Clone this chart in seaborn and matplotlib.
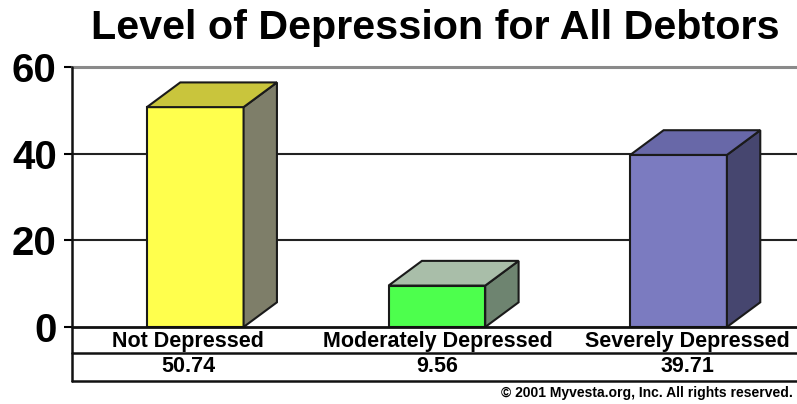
import matplotlib
matplotlib.use("Agg")
import matplotlib.pyplot as plt
import seaborn as sns
import pandas as pd
from matplotlib.patches import Polygon

# ---- data ----
categories = ["Not Depressed", "Moderately Depressed", "Severely Depressed"]
values = [50.74, 9.56, 39.71]
value_labels = ["50.74", "9.56", "39.71"]
yticks = [0, 20, 40, 60]
title = "Level of Depression for All Debtors"
credit = "© 2001 Myvesta.org, Inc. All rights reserved."

# ---- styles ----
front_colors = ["#FFFF4D", "#4DFF4D", "#7B7BC0"]
top_colors = ["#C9C53C", "#A9BEA9", "#6868A8"]
side_colors = ["#7E7E69", "#6E8470", "#46466F"]
edge = "#1a1a1a"

sns.set_theme(style="white")
plt.rcParams["font.family"] = ["Liberation Sans", "DejaVu Sans"]

W, H = 797, 404
fig = plt.figure(figsize=(W / 100, H / 100), dpi=100)
ax_left, ax_right, ax_top, ax_bottom = 72, 797, 67, 327
ax = fig.add_axes([ax_left / W, 1 - ax_bottom / H,
                   (ax_right - ax_left) / W, (ax_bottom - ax_top) / H])

df = pd.DataFrame({"category": categories, "value": values})
sns.barplot(data=df, x="category", y="value", hue="category",
            palette=front_colors, width=0.4, edgecolor=edge, linewidth=1.5,
            ax=ax, legend=False, zorder=3, saturation=1)

ax.set_ylim(0, 60)
ax.set_xlim(-0.51, 2.49)

# 3D top and side faces derived from the bars
dx, dy = 0.138, 5.7
patches = sorted(ax.patches, key=lambda p: p.get_x())
for i, p in enumerate(patches):
    x0 = p.get_x()
    x1 = x0 + p.get_width()
    h = p.get_height()
    top = Polygon([(x0, h), (x0 + dx, h + dy), (x1 + dx, h + dy), (x1, h)],
                  closed=True, facecolor=top_colors[i], edgecolor=edge,
                  linewidth=1.5, zorder=3, clip_on=False)
    side = Polygon([(x1, 0), (x1, h), (x1 + dx, h + dy), (x1 + dx, dy)],
                   closed=True, facecolor=side_colors[i], edgecolor=edge,
                   linewidth=1.5, zorder=3, clip_on=False)
    ax.add_patch(side)
    ax.add_patch(top)

# grid lines
for yv in yticks:
    if yv == 60:
        ax.axhline(yv, color="#8a8a8a", lw=2.2, zorder=1, clip_on=False)
    elif yv == 0:
        ax.axhline(yv, color="#111111", lw=2, zorder=4, clip_on=False)
    else:
        ax.axhline(yv, color="#222222", lw=1.5, zorder=1)

for s in ax.spines.values():
    s.set_visible(False)

# left axis line extending through the table
ax.plot([0, 0], [-54 / 260, 1], transform=ax.transAxes, color="#111111",
        lw=1.8, clip_on=False, zorder=5)
# table rows
for yf in (-26 / 260, -54 / 260):
    ax.plot([0, 1], [yf, yf], transform=ax.transAxes, color="#111111",
            lw=1.8, clip_on=False, zorder=5)

ax.set_yticks(yticks)
ax.set_yticklabels([str(t) for t in yticks], fontsize=29, fontweight="bold",
                   color="black")
ax.tick_params(axis="y", left=True, length=6, width=1.5, color="black", pad=5)
ax.set_xticks([])
ax.set_xlabel("")
ax.set_ylabel("")

# table text
col_px = [188, 437.5, 687]
for i, (c, v) in enumerate(zip(categories, value_labels)):
    fig.text(col_px[i] / W, 1 - 341 / H, c, ha="center", va="center",
             fontsize=15.5, fontweight="bold", color="black")
    fig.text(col_px[i] / W, 1 - 367 / H, v, ha="center", va="center",
             fontsize=15.5, fontweight="bold", color="black")

fig.text(435.5 / W, 1 - 28 / H, title, ha="center", va="center",
         fontsize=29.7, fontweight="bold", color="black")
fig.text(793 / W, 1 - 393 / H, credit, ha="right", va="center",
         fontsize=10, fontweight="bold", color="black")

fig.savefig("out.png", dpi=100, facecolor="white")
